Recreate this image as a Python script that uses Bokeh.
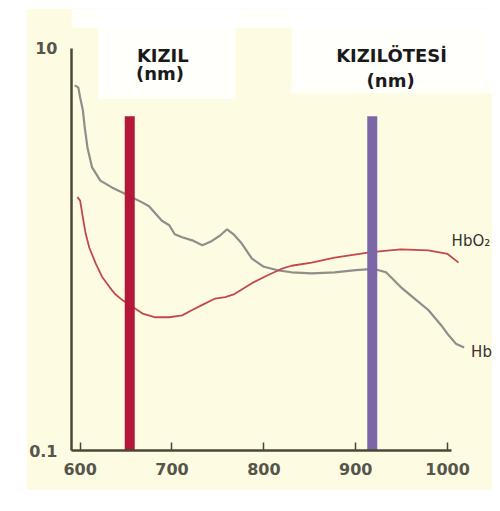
from bokeh.plotting import figure
from bokeh.models import FixedTicker, BasicTickFormatter, Label, BoxAnnotation, Range1d
from bokeh.embed import file_html
from bokeh.resources import INLINE

# ---- data ----
x_ticks = [600, 700, 800, 900, 1000]
y_ticks = [0.1, 10]

hb_nm = [594, 598, 600, 603, 605, 608, 613, 622, 635, 646, 654, 668, 675, 682, 689,
         697, 703, 711, 722, 733, 743, 752, 760, 767, 776, 787, 800, 814, 830, 852,
         877, 900, 920, 933, 949, 966, 979, 993, 1000, 1009, 1018]
hb_val = [6.55, 6.40, 5.70, 4.92, 4.05, 3.21, 2.56, 2.20, 2.03, 1.92, 1.84, 1.71, 1.64, 1.51, 1.39,
          1.32, 1.19, 1.15, 1.11, 1.05, 1.10, 1.17, 1.26, 1.19, 1.07, 0.90, 0.82, 0.79, 0.77, 0.76,
          0.77, 0.79, 0.80, 0.77, 0.65, 0.56, 0.50, 0.42, 0.38, 0.34, 0.325]

hbo2_nm = [597, 600, 603, 606, 610, 617, 624, 632, 638, 646, 654, 668, 682, 697, 711,
           722, 733, 747, 758, 768, 787, 803, 819, 830, 852, 877, 917, 949, 979, 1000, 1012]
hbo2_val = [1.82, 1.75, 1.44, 1.20, 1.02, 0.85, 0.73, 0.65, 0.60, 0.56, 0.53, 0.48, 0.46, 0.46, 0.47,
            0.50, 0.53, 0.57, 0.58, 0.60, 0.68, 0.74, 0.80, 0.83, 0.86, 0.91, 0.97, 1.00, 0.99, 0.95, 0.86]

bar_nm = [654, 918]          # red (KIZIL) and infrared (KIZILÖTESİ) wavelengths
bar_top = [4.6, 4.6]
bar_names = ["KIZIL", "KIZILÖTESİ"]
unit_text = "(nm)"
y_min = 0.1

# ---- styles ----
BG = "#fdfbe1"
AXIS = "#4a4836"
p = figure(width=466, height=482,
           x_range=Range1d(590.6, 1048.9), y_range=Range1d(0.1, 15.8),
           y_axis_type="log", output_backend="svg", toolbar_location=None,
           min_border_left=43, min_border_right=0, min_border_top=0, min_border_bottom=40)
p.margin = (8, 0, 0, 26)
p.outline_line_color = None
p.grid.visible = False
p.background_fill_color = BG
p.border_fill_color = BG

# white label areas
p.add_layout(BoxAnnotation(bottom=12.6, fill_color="white", fill_alpha=0.9, line_color=None))
p.add_layout(BoxAnnotation(left=620, right=769, bottom=5.6, fill_color="white", fill_alpha=0.9, line_color=None))
p.add_layout(BoxAnnotation(left=830, bottom=6.0, fill_color="white", fill_alpha=0.9, line_color=None))

# axes
xa = p.xaxis[0]
xa.ticker = FixedTicker(ticks=x_ticks, minor_ticks=[])
xa.bounds = (590.6, 1004)
xa.axis_line_color = AXIS
xa.axis_line_width = 2.5
xa.major_tick_in = 8
xa.major_tick_out = 0
xa.major_tick_line_color = AXIS
xa.major_tick_line_width = 1.5
xa.minor_tick_in = 0
xa.minor_tick_out = 0
xa.major_label_standoff = 12
xa.major_label_text_font = "DejaVu Sans"
xa.major_label_text_font_style = "bold"
xa.major_label_text_font_size = "16px"
xa.major_label_text_color = "#55554c"

ya = p.yaxis[0]
ya.ticker = FixedTicker(ticks=y_ticks, minor_ticks=[])
ya.formatter = BasicTickFormatter()
ya.bounds = (0.1, 10)
ya.axis_line_color = AXIS
ya.axis_line_width = 2.5
ya.major_tick_in = 0
ya.major_tick_out = 0
ya.minor_tick_in = 0
ya.minor_tick_out = 0
ya.major_label_standoff = 14
ya.major_label_text_font = "DejaVu Sans"
ya.major_label_text_font_style = "bold"
ya.major_label_text_font_size = "16px"
ya.major_label_text_color = "#55554c"

# curves
p.line(hb_nm, hb_val, line_color="#8e8e8a", line_width=2.2)
p.line(hbo2_nm, hbo2_val, line_color="#c2484a", line_width=1.8)

# wavelength bars
p.segment(x0=bar_nm, y0=[y_min] * len(bar_nm), x1=bar_nm, y1=bar_top,
          line_color=["#b3183a", "#7b66a8"], line_width=10, line_cap="butt")

# header labels
lab_style = dict(text_font="DejaVu Sans", text_font_style="bold", text_font_size="18px",
                 text_color="#1a1a1a", text_align="center", text_baseline="alphabetic")
p.add_layout(Label(x=690, y=9.23, text=bar_names[0], **lab_style))
p.add_layout(Label(x=687, y=7.52, text=unit_text, **lab_style))
p.add_layout(Label(x=939, y=9.23, text=bar_names[1], **lab_style))
p.add_layout(Label(x=938, y=6.93, text=unit_text, **lab_style))

# curve labels
cl_style = dict(text_font="DejaVu Sans", text_font_size="15px", text_color="#333333",
                text_align="left", text_baseline="middle")
p.add_layout(Label(x=hbo2_nm[-1], y=hbo2_val[-1], x_offset=-7, y_offset=22, text="HbO₂", **cl_style))
p.add_layout(Label(x=hb_nm[-1], y=hb_val[-1], x_offset=7, y_offset=-4, text="Hb", **cl_style))

open("out.html", "w").write(file_html(p, INLINE))
